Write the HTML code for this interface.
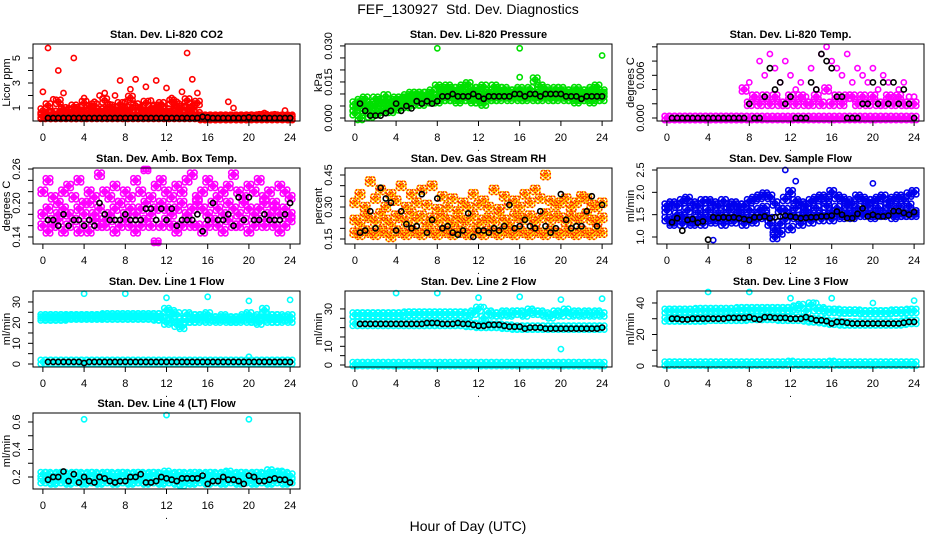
<!DOCTYPE html>
<html><head><meta charset="utf-8"><style>
body{margin:0;background:#fff}
svg{display:block;font-family:"Liberation Sans",sans-serif}
</style></head><body>
<svg id="chart" width="936" height="540" viewBox="0 0 936 540">
<text x="468" y="14" text-anchor="middle" font-size="14">FEF_130927&#160;&#160;Std. Dev. Diagnostics</text>
<text x="468" y="531" text-anchor="middle" font-size="14">Hour of Day (UTC)</text>
</svg>
<script>
// ---- data (values indexed by hour position across 0..24) ----
const xTicks = [0,4,8,12,16,20,24];
const co2A = [2.3,5.8,1.7,4.0,2.2,1.0,5.0,0.8,1.8,1.2,1.5,2.0,2.2,1.3,2.0,3.2,1.5,2.5,3.3,1.0,2.7,1.6,3.2,1.2,2.6,1.8,1.5,2.3,5.4,3.3,2.2,0.4,0.3,0.3,0.3,0.3,1.5,1.0,0.3,0.3,0.4,0.3,0.5,0.6,0.4,0.5,0.4,0.8,0.3];
const co2B = [0.8,1.2,0.6,1.5,0.9,0.7,1.1,0.9,1.4,1.0,1.2,0.8,1.6,1.1,0.9,1.3,1.0,1.8,1.2,0.9,1.4,1.0,1.1,1.3,0.8,1.5,1.2,1.0,1.6,1.2,1.4,0.2,0.25,0.2,0.2,0.3,0.2,0.25,0.2,0.2,0.3,0.3,0.3,0.35,0.3,0.3,0.3,0.3,0.2];
const co2C = [0.4,0.5,0.3,0.6,0.4,0.5,0.3,0.6,0.7,0.4,0.5,0.6,0.8,0.5,0.4,0.7,0.6,0.9,0.5,0.6,0.7,0.5,0.8,0.6,0.5,0.6,0.7,0.5,0.9,0.6,0.5,0.15,0.15,0.15,0.15,0.15,0.15,0.15,0.15,0.15,0.15,0.15,0.15,0.15,0.15,0.15,0.15,0.15,0.15];
const co2D = [0.3,0.3,0.3,0.3,0.3,0.3,0.3,0.3,0.3,0.3,0.3,0.3,0.3,0.3,0.3,0.3,0.3,0.3,0.3,0.3,0.3,0.3,0.3,0.3,0.3,0.3,0.3,0.3,0.3,0.3,0.3,0.3,0.3,0.3,0.3,0.3,0.3,0.3,0.3,0.3,0.3,0.3,0.3,0.3,0.3,0.3,0.3,0.3,0.3];
const co2K = [0.2,0.2,0.2,0.2,0.2,0.2,0.2,0.2,0.2,0.2,0.2,0.2,0.2,0.2,0.2,0.2,0.2,0.2,0.2,0.2,0.2,0.2,0.2,0.2,0.2,0.2,0.2,0.2,0.2,0.2,0.3,0.25,0.2,0.2,0.2,0.2,0.2,0.2,0.2,0.25,0.2,0.2,0.2,0.2,0.2,0.2,0.2,0.2];

const presA = [0.006,0.007,0.008,0.006,0.008,0.007,0.009,0.007,0.008,0.008,0.009,0.010,0.010,0.010,0.010,0.011,0.013,0.012,0.013,0.012,0.012,0.013,0.014,0.012,0.012,0.013,0.011,0.013,0.012,0.012,0.011,0.011,0.012,0.011,0.012,0.016,0.013,0.012,0.011,0.012,0.012,0.011,0.011,0.012,0.011,0.011,0.012,0.013,0.011];
const presB = [0.002,0.000,0.003,0.001,0.002,0.003,0.004,0.003,0.004,0.005,0.005,0.006,0.006,0.006,0.007,0.007,0.007,0.008,0.008,0.008,0.007,0.008,0.008,0.007,0.007,0.006,0.008,0.008,0.008,0.009,0.008,0.009,0.008,0.008,0.009,0.008,0.008,0.009,0.008,0.008,0.009,0.008,0.008,0.007,0.008,0.008,0.007,0.008,0.008];
const presC = [0.004,0.005,0.006,0.004,0.005,0.006,0.007,0.006,0.006,0.007,0.008,0.008,0.009,0.008,0.008,0.009,0.009,0.010,0.010,0.010,0.010,0.010,0.011,0.010,0.009,0.010,0.009,0.010,0.010,0.010,0.010,0.010,0.010,0.009,0.010,0.010,0.010,0.010,0.010,0.010,0.010,0.010,0.010,0.010,0.010,0.009,0.010,0.010,0.010];
const presK = [0.006,0.003,0.001,0.001,0.001,0.002,0.003,0.006,0.003,0.005,0.004,0.007,0.006,0.007,0.006,0.007,0.009,0.009,0.010,0.009,0.009,0.009,0.010,0.009,0.008,0.009,0.009,0.009,0.009,0.009,0.010,0.010,0.009,0.010,0.010,0.009,0.010,0.010,0.010,0.010,0.009,0.009,0.009,0.008,0.009,0.009,0.009,0.009];
const presOutX = [8,16,24,16];
const presOutY = [0.029,0.029,0.026,0.017];

const tempA = [0,0,0,0,0,0,0,0,0,0,0,0,0,0,0,0,0.005,0.003,0.008,0.006,0.009,0.007,0.005,0.008,0.006,0.004,0.005,0.003,0.007,0.004,0.009,0.010,0.008,0.007,0.006,0.009,0.005,0.007,0.006,0.005,0.007,0.004,0.006,0.005,0.003,0.004,0.005,0.003,0.003];
const tempB = [0,0,0,0,0,0,0,0,0,0,0,0,0,0,0,0.004,0.002,0.003,0.002,0.003,0.002,0.003,0.002,0.002,0.003,0.002,0.003,0.002,0.002,0.003,0.002,0.004,0.002,0.003,0.002,0.003,0.003,0.002,0.003,0.002,0.003,0.002,0.002,0.003,0.002,0.003,0.002,0.002,0.002];
const tempC = [0,0,0,0,0,0,0,0,0,0,0,0,0,0,0,0,0,0,0,0,0,0,0,0,0,0,0,0,0,0,0,0,0,0,0,0,0,0,0,0,0,0,0,0,0,0,0,0,0];
const tempK = [0,0,0,0,0,0,0,0,0,0,0,0,0,0,0,0.002,0,0,0.003,0.007,0.004,0.005,0.002,0.003,0,0,0,0.005,0.004,0.009,0.008,0.007,0.003,0.003,0,0,0,0.002,0.002,0.005,0.002,0.005,0.002,0.005,0.002,0.004,0.002,0];

const ambA = [0.22,0.24,0.21,0.20,0.22,0.23,0.21,0.24,0.20,0.22,0.21,0.25,0.22,0.21,0.23,0.20,0.22,0.21,0.24,0.22,0.26,0.21,0.23,0.24,0.22,0.21,0.23,0.22,0.24,0.25,0.21,0.22,0.24,0.23,0.21,0.22,0.23,0.25,0.22,0.21,0.23,0.22,0.24,0.21,0.22,0.20,0.23,0.22,0.21];
const ambB = [0.18,0.19,0.17,0.18,0.19,0.18,0.17,0.19,0.18,0.20,0.18,0.19,0.17,0.18,0.19,0.20,0.18,0.19,0.18,0.19,0.20,0.18,0.19,0.20,0.19,0.18,0.19,0.20,0.18,0.19,0.20,0.19,0.18,0.20,0.19,0.18,0.20,0.19,0.18,0.20,0.19,0.18,0.19,0.20,0.18,0.19,0.18,0.19,0.18];
const ambC = [0.16,0.15,0.16,0.17,0.15,0.16,0.17,0.15,0.16,0.15,0.17,0.16,0.16,0.17,0.15,0.16,0.17,0.16,0.15,0.16,0.17,0.16,0.13,0.16,0.17,0.16,0.15,0.16,0.17,0.16,0.16,0.15,0.16,0.17,0.16,0.15,0.17,0.16,0.16,0.17,0.15,0.16,0.17,0.16,0.17,0.16,0.15,0.16,0.17];
const ambK = [0.17,0.17,0.16,0.18,0.16,0.17,0.17,0.16,0.17,0.16,0.20,0.18,0.17,0.17,0.17,0.18,0.17,0.17,0.17,0.19,0.19,0.17,0.19,0.17,0.19,0.16,0.17,0.17,0.17,0.18,0.15,0.17,0.20,0.17,0.17,0.18,0.16,0.21,0.17,0.21,0.17,0.17,0.18,0.17,0.17,0.17,0.18,0.20];

const rhA = [0.32,0.36,0.30,0.42,0.34,0.38,0.30,0.36,0.33,0.40,0.30,0.36,0.32,0.38,0.31,0.40,0.29,0.35,0.30,0.34,0.28,0.32,0.30,0.36,0.31,0.33,0.30,0.38,0.29,0.35,0.31,0.33,0.30,0.36,0.32,0.38,0.34,0.45,0.33,0.31,0.32,0.34,0.30,0.32,0.35,0.34,0.31,0.30,0.32];
const rhB = [0.24,0.22,0.26,0.25,0.23,0.27,0.24,0.22,0.26,0.25,0.23,0.27,0.24,0.26,0.22,0.25,0.23,0.26,0.24,0.22,0.25,0.23,0.24,0.26,0.22,0.24,0.25,0.23,0.27,0.24,0.22,0.26,0.25,0.24,0.26,0.23,0.25,0.27,0.24,0.26,0.25,0.23,0.26,0.24,0.25,0.27,0.24,0.23,0.25];
const rhC = [0.18,0.17,0.19,0.18,0.17,0.19,0.18,0.16,0.19,0.18,0.17,0.19,0.18,0.17,0.19,0.18,0.17,0.19,0.18,0.17,0.19,0.18,0.17,0.19,0.18,0.17,0.19,0.18,0.17,0.19,0.18,0.17,0.19,0.18,0.17,0.19,0.18,0.17,0.19,0.18,0.17,0.19,0.18,0.17,0.19,0.18,0.17,0.19,0.18];
const rhK = [0.18,0.19,0.28,0.20,0.39,0.34,0.32,0.19,0.28,0.22,0.20,0.21,0.36,0.18,0.24,0.34,0.20,0.21,0.18,0.17,0.19,0.27,0.16,0.19,0.19,0.18,0.20,0.19,0.21,0.31,0.20,0.21,0.24,0.21,0.20,0.28,0.21,0.18,0.20,0.36,0.24,0.20,0.21,0.21,0.28,0.35,0.21,0.31];

const flowA = [1.7,1.75,1.7,1.8,1.85,1.75,1.7,1.8,1.8,1.75,1.7,1.8,1.7,1.75,1.7,1.7,1.8,1.85,1.9,1.95,1.9,1.75,1.6,1.85,2.0,1.8,1.75,1.7,1.8,1.85,1.9,1.85,2.0,1.9,1.85,1.8,1.75,1.9,1.85,1.8,1.8,1.85,1.9,1.8,1.85,1.9,1.85,1.95,2.0];
const flowB = [1.4,1.35,1.4,1.45,1.4,1.35,1.4,1.45,1.4,1.45,1.4,1.45,1.4,1.45,1.5,1.45,1.4,1.45,1.45,1.5,1.3,1.15,1.3,1.4,1.5,1.45,1.45,1.5,1.45,1.5,1.5,1.5,1.55,1.55,1.5,1.55,1.5,1.55,1.5,1.55,1.5,1.55,1.5,1.55,1.55,1.5,1.55,1.5,1.55];
const flowC = [1.6,1.3,1.5,1.3,1.6,1.3,1.55,1.3,1.6,1.35,1.55,1.3,1.6,1.35,1.6,1.3,1.6,1.35,1.6,1.65,1.4,1.0,1.1,1.6,1.2,1.65,1.3,1.6,1.35,1.65,1.4,1.7,1.4,1.65,1.45,1.7,1.45,1.65,1.5,1.7,1.45,1.65,1.5,1.7,1.45,1.7,1.5,1.7,1.5];
const flowK = [1.33,1.42,1.14,1.38,1.40,1.32,1.35,0.94,1.44,1.43,1.44,1.43,1.44,1.42,1.40,1.38,1.44,1.44,1.46,1.42,1.44,1.46,1.48,1.46,1.44,1.42,1.43,1.44,1.44,1.46,1.46,1.48,1.57,1.50,1.42,1.42,1.52,1.64,1.46,1.50,1.46,1.46,1.48,1.58,1.58,1.54,1.50,1.56];
const flowOutX = [11.5,12.5,20,4.5];
const flowOutY = [2.5,2.25,2.2,0.93];

const l1A = [23,23,23,23,23,23,23,23,23,23,23,23,23.5,23.5,23.5,23.5,23.5,23.5,23.5,23.5,23.5,23.5,23.5,23.5,26,21,24,18,24,21,23,22,24,22,22,22,21,22,21,22,24,22,23,26,23,21,23,22,21];
const l1B = [22,22,22,22,22,22.5,22.5,22.5,22.5,22.5,22.5,22.5,22.5,22.5,22.5,22.5,22.5,22.5,22.5,22.5,22.5,22.5,22,22,20,25,19,21,21,23,21,23,21,22,21,23,22,21,22,23,21,21,20,22,21,23,21,22,23];
const l1C = [1,1,1,1,1,1,1,1,1,1,1,1,1,1,1,1,1,1,1,1,1,1,1,1,1,1,1,1,1,1,1,1,1,1,1,1,1,1,1,1,1,1,1,1,1,1,1,1,1];
const l1K = [1,1,1,1,1,1,1,0.5,1,1,1,1,1,1,1,1,1,1,1,1,1,1,1,1,1,1,1,1,1,1,1,1,1,1,1,1,1,1,1,1,1,1,1,1,1,1,1,1];
const l1OutX = [4,8,12,16,20,24,20];
const l1OutY = [34,34,32,32.5,30.5,31,3.5];

const l2A = [27,27,27,27,27,27,27,27,27,27,27.5,27.5,27.5,27.5,27.5,27.5,27.5,27.5,27.5,27.5,27.5,27.5,27,28,30,25,28,27,27,28,27,28,28,27,29,28,28,27,26,28,27,29,27,28,27,28,27,28,27];
const l2B = [22,22,22,22,22,22,22,22,22,22,22,22,22,22,22,22,22,22,22,22,22,22,21.5,21.5,21,21,21,21,21,20.5,20.5,20,20,20,20,20,20,20,20,20,20,20,20,20,20,20,20,20,20];
const l2C = [0.5,0.5,0.5,0.5,0.5,0.5,0.5,0.5,0.5,0.5,0.5,0.5,0.5,0.5,0.5,0.5,0.5,0.5,0.5,0.5,0.5,0.5,0.5,0.5,0.5,0.5,0.5,0.5,0.5,0.5,0.5,0.5,0.5,0.5,0.5,0.5,0.5,0.5,0.5,0.5,0.5,0.5,0.5,0.5,0.5,0.5,0.5,0.5,0.5];
const l2K = [22,22,22,22,22,22,22,22,22,22,22,22,22,22.5,22.5,22.5,22,22,22,22.5,22,22,21.5,21,21,21.5,21.5,21.5,21,20.5,20.5,20.5,19.5,20,20,20,19.5,19.5,19.5,19.5,19.5,19.5,19.5,19.5,19.5,19.5,19.5,20];
const l2OutX = [4,8,12,16,20,24,20,12.5];
const l2OutY = [38.5,38.5,36,36.5,35,35.5,8.5,31];

const l3A = [35,35,35,35,35,35,35.5,35.5,35.5,35.5,35.5,35.5,35.5,35.5,36,36,36,36,36,36,36,36,36,36,36,37,38,35,39,36,36,35,35,35,34.5,34.5,34.5,34.5,34,34,34,34,34,34,34.5,34.5,34.5,35,35];
const l3B = [29.5,29.5,29.5,29.5,29.5,29.5,29.5,29.5,30,30,30,30,30,30,30,30,30.5,30.5,30.5,30.5,30.5,30.5,30,30,30,30,30,29.5,29,29,28.5,28,27.5,27.5,27,27,27,27,27,27,27,27,27,27,27,27,27.5,28,28];
const l3C = [1.5,1.5,1.5,1.5,1.5,1.5,1.5,1.5,1.5,1.5,1.5,1.5,1.5,1.5,1.5,1.5,1.5,1.5,1.5,1.5,1.5,1.5,1.5,1.5,2,1.5,1.5,1.5,1.5,1.5,1.5,1.5,2,1.5,1.5,1.5,1.5,1.5,1.5,1.5,1.5,1.5,1.5,1.5,1.5,1.5,1.5,1.5,1.5];
const l3K = [30,30,29.5,29.5,30,30,30,30,30,30,30,30.5,30.5,30.5,30.5,31,30,29.5,31,31,30.5,30.5,30.5,30,30,30,31,30,29,29,28.5,27,28,28,27.5,27,27,27,27,27,27,27,27,27,27,27.5,28,28];
const l3OutX = [4,8,12,16,20,24,14.5];
const l3OutY = [47,47,43,43,40,41.5,40];

const l4A = [0.22,0.22,0.21,0.22,0.22,0.21,0.22,0.22,0.21,0.22,0.22,0.21,0.22,0.22,0.21,0.22,0.22,0.21,0.22,0.22,0.21,0.22,0.22,0.21,0.23,0.21,0.22,0.22,0.21,0.22,0.22,0.21,0.22,0.22,0.21,0.22,0.23,0.21,0.22,0.22,0.21,0.22,0.22,0.21,0.24,0.22,0.23,0.22,0.21];
const l4B = [0.17,0.17,0.16,0.17,0.17,0.16,0.17,0.17,0.16,0.17,0.17,0.16,0.17,0.17,0.16,0.17,0.17,0.16,0.17,0.17,0.16,0.17,0.17,0.16,0.17,0.17,0.16,0.15,0.17,0.16,0.17,0.17,0.16,0.17,0.17,0.16,0.17,0.17,0.16,0.17,0.17,0.16,0.17,0.17,0.16,0.17,0.17,0.16,0.17];
const l4K = [0.18,0.20,0.20,0.24,0.17,0.22,0.16,0.20,0.17,0.16,0.20,0.19,0.17,0.16,0.17,0.17,0.20,0.20,0.22,0.16,0.16,0.17,0.20,0.19,0.18,0.17,0.19,0.19,0.19,0.19,0.21,0.15,0.17,0.17,0.20,0.18,0.18,0.17,0.15,0.21,0.20,0.17,0.17,0.18,0.19,0.18,0.18,0.16];
const l4OutX = [4,12,20];
const l4OutY = [0.62,0.65,0.62];

// ---- drawing ----
const NS = 'http://www.w3.org/2000/svg';
const svg = document.getElementById('chart');
function mk(tag, attrs, parent){
  const e = document.createElementNS(NS, tag);
  for (const k in attrs) e.setAttribute(k, attrs[k]);
  (parent||svg).appendChild(e);
  return e;
}
const W = 267;
// marker cluster offsets (px) used to render dense sampled clouds
const CLUSTER = [[0,0],[-2.2,-2],[2.2,2],[-2.2,2],[2.2,-2]];
function panel(cfg){
  const g = mk('g', {});
  
  
  const L = cfg.left, T = cfg.top, H = cfg.h;
  const xs = v => L + (v + 0.96) * W / 25.92;
  const ys = v => T + H - (v - cfg.ymin) / (cfg.ymax - cfg.ymin) * H;
  const t = mk('text', {x: L + W/2, y: T - 6, 'text-anchor': 'middle', 'font-size': 11, 'font-weight': 'bold'}, g);
  t.textContent = cfg.title;
  
  
  const pts = mk('g', {fill: 'none', 'stroke-width': 1.6}, g);
  
  
  function dot(x, y, color, dash, ox, oy){
    let cy = ys(y) + oy;
    cy = Math.max(T + 1, Math.min(T + H - 1, cy));
    const c = mk('circle', {cx: (xs(x) + ox).toFixed(1), cy: cy.toFixed(1), r: 2.6, stroke: color}, pts);
    if (dash) c.setAttribute('stroke-dasharray', '1.6 1.6');
    
    
  }
  cfg.series.forEach(s => {
    const offs = s.dense ? CLUSTER : [[0,0]];
    s.vals.forEach((v, i) => {
      const x = s.xs ? s.xs[i] : (s.x0 + i * (24 - s.x0) / (s.vals.length - 1));
      offs.forEach(o => {
        dot(x, v, s.color, false, o[0], o[1]);
        if (s.overColor) dot(x, v, s.overColor, true, o[0], o[1]);
      });
    });
  });
  const b = mk('rect', {x: L, y: T, width: W, height: H, fill: 'none', stroke: '#000', 'stroke-width': 1}, g);
  
  
  xTicks.forEach(v => {
    mk('line', {x1: xs(v), x2: xs(v), y1: T + H, y2: T + H + 5, stroke: '#000'}, g);
    const tl = mk('text', {x: xs(v), y: T + H + 20, 'text-anchor': 'middle', 'font-size': 11}, g);
    tl.textContent = v;
    
    
  });
  const dt = mk('text', {x: L + W/2, y: T + H + 30, 'text-anchor': 'middle', 'font-size': 10}, g);
  dt.textContent = '.';
  cfg.yticks.forEach(v => {
    mk('line', {x1: L - 5, x2: L, y1: ys(v), y2: ys(v), stroke: '#000'}, g);
  });
  cfg.ylabels.forEach(v => {
    const yy = ys(parseFloat(v));
    const tl = mk('text', {x: 0, y: 0, 'text-anchor': 'middle', 'font-size': 11, transform: `translate(${L-13},${yy}) rotate(-90)`}, g);
    tl.textContent = v;
    
    
  });
  const yl = mk('text', {x: 0, y: 0, 'text-anchor': 'middle', 'font-size': 11, transform: `translate(${L-23},${T+H/2}) rotate(-90)`}, g);
  yl.textContent = cfg.ylab;
  
  
}
const RED='#ff0000', GRN='#00e000', MAG='#ff00ff', BLU='#0000ee', CY='#00ffff', BK='#000';
function rng(a,b,s){const r=[];for(let v=a;v<=b+1e-9;v+=s)r.push(+v.toFixed(4));return r;}
const C1=33, C2=345, C3=657, R1=44, R2=168, R3=291, R4=413, HH=77;
panel({name:'panel-co2',title:'Stan. Dev. Li-820 CO2',left:C1,top:R1,h:HH,ymin:-0.04,ymax:6.12,yticks:[1,2,3,4,5],ylabels:['1','3','5'],ylab:'Licor ppm',
  series:[{vals:co2A,x0:0,color:RED},{vals:co2B,x0:0,color:RED,dense:1},{vals:co2C,x0:0,color:RED,dense:1},{vals:co2D,x0:0,color:RED,dense:1},{vals:co2K,x0:0.5,color:BK}]});
panel({name:'panel-pressure',title:'Stan. Dev. Li-820 Pressure',left:C2,top:R1,h:HH,ymin:-0.00125,ymax:0.0308,yticks:rng(0,0.03,0.005),ylabels:['0.000','0.015','0.030'],ylab:'kPa',
  series:[{vals:presA,x0:0,color:GRN,dense:1},{vals:presB,x0:0,color:GRN,dense:1},{vals:presC,x0:0,color:GRN,dense:1},{vals:presOutY,xs:presOutX,color:GRN},{vals:presK,x0:0.5,color:BK}]});
panel({name:'panel-temp',title:'Stan. Dev. Li-820 Temp.',left:C3,top:R1,h:HH,ymin:-0.00042,ymax:0.0104,yticks:rng(0,0.01,0.002),ylabels:['0.000','0.006'],ylab:'degrees C',
  series:[{vals:tempA,x0:0,color:MAG},{vals:tempB,x0:0,color:MAG,dense:1},{vals:tempC,x0:0,color:MAG,dense:1},{vals:tempK,x0:0.5,color:BK}]});
panel({name:'panel-amb-temp',title:'Stan. Dev. Amb. Box Temp.',left:C1,top:R2,h:HH-1,ymin:0.1276,ymax:0.2618,yticks:rng(0.14,0.26,0.02),ylabels:['0.14','0.20','0.26'],ylab:'degrees C',
  series:[{vals:ambA,x0:0,color:MAG,dense:1},{vals:ambB,x0:0,color:MAG,dense:1},{vals:ambC,x0:0,color:MAG,dense:1},{vals:ambK,x0:0.5,color:BK}]});
panel({name:'panel-rh',title:'Stan. Dev. Gas Stream RH',left:C2,top:R2,h:HH-1,ymin:0.1266,ymax:0.4828,yticks:rng(0.15,0.45,0.05),ylabels:['0.15','0.30','0.45'],ylab:'percent',
  series:[{vals:rhA,x0:0,color:'#ffdd00',overColor:'#ff2000',dense:1},{vals:rhB,x0:0,color:'#ffdd00',overColor:'#ff2000',dense:1},{vals:rhC,x0:0,color:'#ffdd00',overColor:'#ff2000',dense:1},{vals:rhK,x0:0.5,color:BK}]});
panel({name:'panel-sample-flow',title:'Stan. Dev. Sample Flow',left:C3,top:R2,h:HH-1,ymin:0.843,ymax:2.545,yticks:[1,1.5,2,2.5],ylabels:['1.0','1.5','2.0','2.5'],ylab:'ml/min',
  series:[{vals:flowA,x0:0,color:BLU,dense:1},{vals:flowB,x0:0,color:BLU,dense:1},{vals:flowC,x0:0,color:BLU,dense:1},{vals:flowOutY,xs:flowOutX,color:BLU},{vals:flowK,x0:0.5,color:BK}]});
panel({name:'panel-line1',title:'Stan. Dev. Line 1 Flow',left:C1,top:R3,h:HH-1,ymin:-1.45,ymax:35.3,yticks:rng(0,30,5),ylabels:['0','10','20','30'],ylab:'ml/min',
  series:[{vals:l1A,x0:0,color:CY,dense:1},{vals:l1B,x0:0,color:CY,dense:1},{vals:l1C,x0:0,color:CY,dense:1},{vals:l1OutY,xs:l1OutX,color:CY},{vals:l1K,x0:0.5,color:BK}]});
panel({name:'panel-line2',title:'Stan. Dev. Line 2 Flow',left:C2,top:R3,h:HH-1,ymin:-1.07,ymax:39.6,yticks:rng(0,30,5),ylabels:['0','10','30'],ylab:'ml/min',
  series:[{vals:l2A,x0:0,color:CY,dense:1},{vals:l2B,x0:0,color:CY,dense:1},{vals:l2C,x0:0,color:CY,dense:1},{vals:l2OutY,xs:l2OutX,color:CY},{vals:l2K,x0:0.5,color:BK}]});
panel({name:'panel-line3',title:'Stan. Dev. Line 3 Flow',left:C3,top:R3,h:HH-1,ymin:-0.63,ymax:47.6,yticks:rng(0,40,10),ylabels:['0','20','40'],ylab:'ml/min',
  series:[{vals:l3A,x0:0,color:CY,dense:1},{vals:l3B,x0:0,color:CY,dense:1},{vals:l3C,x0:0,color:CY,dense:1},{vals:l3OutY,xs:l3OutX,color:CY},{vals:l3K,x0:0.5,color:BK}]});
panel({name:'panel-line4',title:'Stan. Dev. Line 4 (LT) Flow',left:C1,top:R4,h:HH-1,ymin:0.1127,ymax:0.6655,yticks:rng(0.2,0.6,0.1),ylabels:['0.2','0.4','0.6'],ylab:'ml/min',
  series:[{vals:l4A,x0:0,color:CY,dense:1},{vals:l4B,x0:0,color:CY,dense:1},{vals:l4OutY,xs:l4OutX,color:CY},{vals:l4K,x0:0.5,color:BK}]});
</script>
</body></html>
